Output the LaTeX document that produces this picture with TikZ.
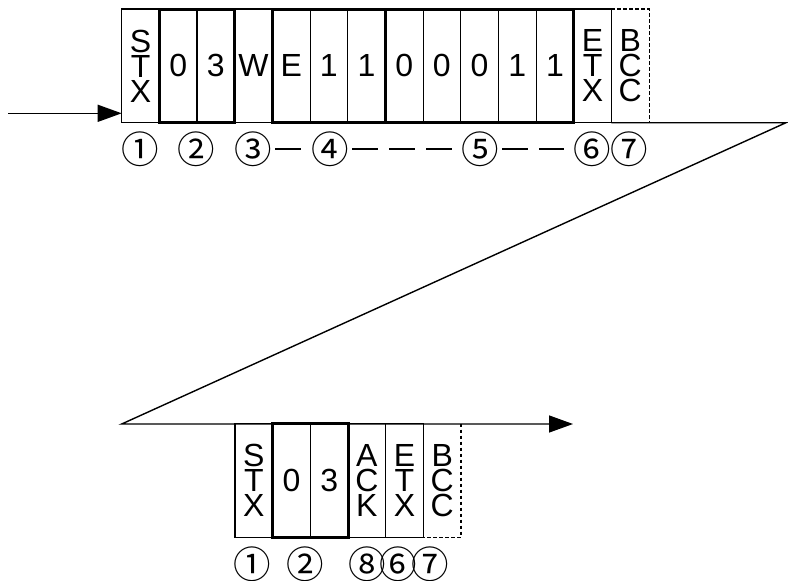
\documentclass[tikz,border=0pt]{standalone}
\usepackage{fontspec}
\setmainfont{Liberation Sans}
\newfontfamily\cjkfont{Noto Sans CJK JP}
\usetikzlibrary{arrows.meta,calc}
\newcommand\cellfont{\fontsize{32pt}{25pt}\selectfont}
\newcommand\labfont{\cjkfont\fontsize{37.5pt}{37.5pt}\selectfont}
\begin{document}
\begin{tikzpicture}[x=1pt,y=-1pt,
  cell/.style={draw, line width=1.1pt, minimum width=37.67pt, minimum height=113.7pt,
    inner sep=0pt, outer sep=0pt, align=center, font=\cellfont},
  nocell/.style={cell, draw=none},
  grp/.style={draw, line width=3pt},
  dsh/.style={line width=1.1pt, dash pattern=on 3.5pt off 2.5pt},
  flow/.style={line width=1.4pt},
  tip/.style={-{Triangle[length=24pt,width=17pt]}},
  lab/.style={inner sep=0pt, font=\labfont},
  sep/.style={line width=1.7pt, dash pattern=on 26pt off 11pt, shorten <=22pt, shorten >=28pt}
]
\useasboundingbox (0,0) rectangle (788,581);

% top frame
\foreach \i/\t in {1/{S\\T\\X},2/0,3/3,4/W,5/E,6/1,7/1,8/0,9/0,10/0,11/1,12/1,13/{E\\T\\X}}
  \node[cell] (t\i) at ({121.7+37.67*(\i-0.5)},65.85) {\t};
\node[nocell] (t14) at ({121.7+37.67*13.5},65.85) {B\\C\\C};
\draw[dsh] (t14.north west) -- (t14.north east) -- (t14.south east);
\draw[grp] (t2.north west) rectangle (t3.south east);
\draw[grp] (t5.north west) rectangle (t7.south east);
\draw[grp] (t8.north west) rectangle (t12.south east);

% flow line
\coordinate (in) at (8,113.3);
\coordinate (turnR) at (786,122.7);
\coordinate (turnL) at (121.7,424);
\coordinate (out) at (573,424);
\draw[flow,tip] (in) -- (t1.west |- in);
\draw[flow,tip] (t14.south west) -- (turnR) -- (turnL) -- (out);

% bottom frame
\foreach \i/\t in {1/{S\\T\\X},2/0,3/3,4/{A\\C\\K},5/{E\\T\\X}}
  \node[cell] (b\i) at ({235+37.67*(\i-0.5)},480.35) {\t};
\node[nocell] (b6) at ({235+37.67*5.5},480.35) {B\\C\\C};
\draw[dsh] (b6.north east) -- (b6.south east) -- (b6.south west);
\draw[grp] (b2.north west) rectangle (b3.south east);

% top labels
\node[lab] (l1) at (140,149) {①};
\node[lab] (l2) at (196,149) {②};
\node[lab] (l3) at (253,149) {③};
\node[lab] (l4) at (330,149) {④};
\node[lab] (l5) at (480,149) {⑤};
\node[lab] (l6) at (592,149) {⑥};
\node[lab] (l7) at (629,149) {⑦};
\draw[sep] (l3.center) -- (l4.center);
\draw[sep] (l4.center) -- (l5.center);
\draw[sep] (l5.center) -- (l6.center);

% bottom labels
\node[lab] (m1) at (252,564) {①};
\node[lab] (m2) at (305.5,564) {②};
\node[lab] (m8) at (367.5,564) {⑧};
\node[lab] (m6) at (398.5,564) {⑥};
\node[lab] (m7) at (430,564) {⑦};
\end{tikzpicture}
\end{document}
